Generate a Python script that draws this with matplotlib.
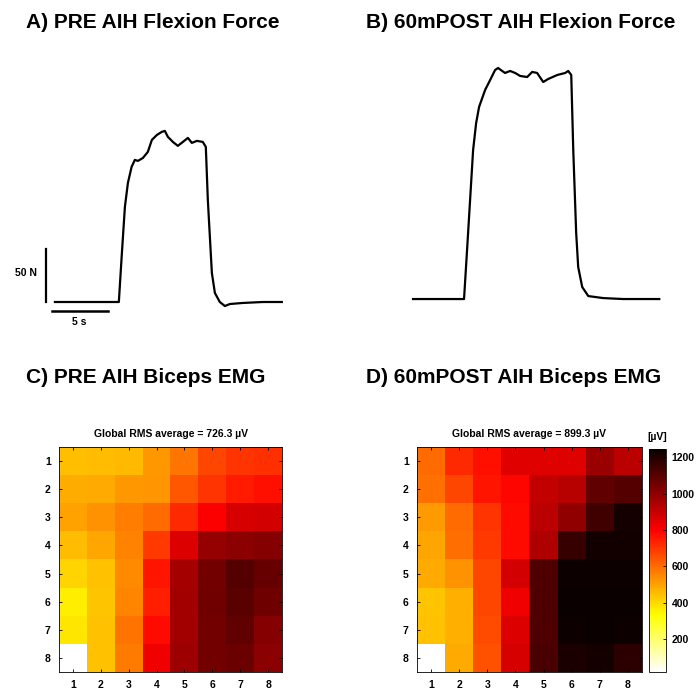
import numpy as np
import matplotlib
matplotlib.use("Agg")
from matplotlib import pyplot as plt

plt.rcParams['font.family'] = ['Liberation Sans', 'DejaVu Sans']

# force traces (time in s, force in N)
pre_t = [0, 5.71, 5.96, 6.25, 6.52, 6.85, 7.14, 7.41, 7.86, 8.30, 8.66, 9.11, 9.55, 9.82,
         10.09, 10.54, 10.98, 11.43, 11.88, 12.23, 12.68, 13.21, 13.48, 13.66, 14.02,
         14.29, 14.73, 15.18, 15.63, 16.79, 18.57, 20.27]
pre_f = [0, 0, 42.5, 89.6, 112.3, 127.4, 134.0, 133.0, 135.8, 141.5, 152.8, 157.5, 160.4, 161.3,
         155.7, 150.9, 147.2, 150.9, 154.7, 150.0, 151.9, 150.9, 146.2, 96.2, 27.4,
         8.5, 0, -3.8, -1.9, -0.9, 0, 0]
post_t = [0, 4.55, 4.82, 5.09, 5.36, 5.63, 5.89, 6.43, 6.88, 7.32, 7.59, 7.95, 8.21, 8.66,
          9.11, 9.55, 10.18, 10.63, 11.07, 11.61, 12.05, 12.86, 13.57, 13.84, 14.11,
          14.29, 14.55, 14.73, 15.09, 15.63, 16.96, 18.75, 21.96]
post_f = [0, 0, 46.2, 93.4, 140.6, 166.0, 181.1, 197.2, 206.6, 216.0, 217.9, 215.1, 213.2, 215.1,
          213.2, 210.4, 209.4, 214.2, 213.2, 204.7, 207.5, 211.3, 213.2, 215.1, 211.3,
          140.6, 62.3, 30.2, 11.3, 2.8, 0.9, 0, 0]

# EMG RMS maps (uV), rows 1-8 x cols 1-8
pre_emg = [
    [450, 455, 460, 520, 580, 670, 700, 710],
    [480, 485, 520, 525, 640, 700, 750, 770],
    [500, 530, 570, 600, 720, 800, 870, 880],
    [455, 490, 560, 690, 860, 990, 1010, 1020],
    [410, 445, 545, 760, 960, 1050, 1110, 1075],
    [360, 440, 555, 740, 965, 1055, 1100, 1060],
    [375, 445, 585, 780, 965, 1050, 1085, 1020],
    [20, 445, 575, 820, 975, 1050, 1065, 1010],
]
post_emg = [
    [600, 720, 770, 850, 855, 855, 980, 920],
    [590, 670, 760, 790, 910, 925, 1085, 1110],
    [515, 600, 700, 780, 920, 1000, 1140, 1225],
    [495, 595, 690, 780, 940, 1160, 1230, 1230],
    [485, 530, 670, 880, 1120, 1240, 1240, 1240],
    [440, 475, 670, 820, 1120, 1245, 1245, 1245],
    [445, 475, 660, 860, 1120, 1240, 1245, 1240],
    [20, 485, 650, 870, 1130, 1215, 1225, 1180],
]
channels = [1, 2, 3, 4, 5, 6, 7, 8]
cbar_ticks = [200, 400, 600, 800, 1000, 1200]
rms_pre = 726.3
rms_post = 899.3

W, H = 698, 690
fig = plt.figure(figsize=(W / 100, H / 100), dpi=100)


def box(l, t, r, b):
    return [l / W, 1 - b / H, (r - l) / W, (b - t) / H]


# force panels
axA = fig.add_axes(box(5, 40, 290, 330))
axA.plot(pre_t, pre_f, color='black', lw=1.6)
axA.set_xlim(-4.46, 21.0)
axA.set_ylim(-26.4, 247)
# scale bars
axA.plot([-0.8, -0.8], [0, 50], color='black', lw=1.6, clip_on=False)
axA.plot([-0.27, 4.73], [-8.5, -8.5], color='black', lw=1.8, clip_on=False)
axA.text(-1.6, 27, '50 N', ha='right', va='center', fontsize=7.5, fontweight='bold')
axA.text(2.2, -18.5, '5 s', ha='center', va='center', fontsize=7.5, fontweight='bold')
axA.axis('off')

axB = fig.add_axes(box(400, 40, 690, 330))
axB.plot(post_t, post_f, color='black', lw=1.6)
axB.set_xlim(-1.16, 24.7)
axB.set_ylim(-29.2, 244.3)
axB.axis('off')

tkw = dict(fontsize=15, fontweight='bold', va='center')
fig.text(26 / W, 1 - 23 / H, 'A) PRE AIH Flexion Force', **tkw)
fig.text(366 / W, 1 - 23 / H, 'B) 60mPOST AIH Flexion Force', **tkw)
fig.text(26 / W, 1 - 378 / H, 'C) PRE AIH Biceps EMG', **tkw)
fig.text(366 / W, 1 - 378 / H, 'D) 60mPOST AIH Biceps EMG', **tkw)

vmin, vmax = 20, 1245
cmap = plt.get_cmap('hot_r')


def heat(ax, data, rms):
    im = ax.imshow(np.array(data), cmap=cmap, vmin=vmin, vmax=vmax, aspect='auto',
                   extent=[0.5, 8.5, 8.5, 0.5], interpolation='nearest')
    ax.set_xticks(channels)
    ax.set_yticks(channels)
    ax.tick_params(direction='in', length=2.5, width=0.6, top=True, right=True,
                   labelsize=7.5, pad=6)
    for lab in ax.get_xticklabels() + ax.get_yticklabels():
        lab.set_fontweight('bold')
    for s in ax.spines.values():
        s.set_linewidth(0.6)
    ax.set_title(f'Global RMS average = {rms} µV', fontsize=7.5, fontweight='bold', pad=7)
    return im


axC = fig.add_axes(box(59, 447, 282, 672))
heat(axC, pre_emg, rms_pre)
axD = fig.add_axes(box(417, 447, 642, 672))
im = heat(axD, post_emg, rms_post)

cax = fig.add_axes(box(649, 449, 666, 672))
cb = fig.colorbar(im, cax=cax, ticks=cbar_ticks)
cb.outline.set_linewidth(0.6)
cax.tick_params(direction='in', length=2.5, width=0.6, labelsize=7.5, pad=4)
for lab in cax.get_yticklabels():
    lab.set_fontweight('bold')
fig.text(657 / W, 1 - 437 / H, '[µV]', fontsize=7.5, fontweight='bold', ha='center', va='center')

fig.savefig('out.png', dpi=100)
